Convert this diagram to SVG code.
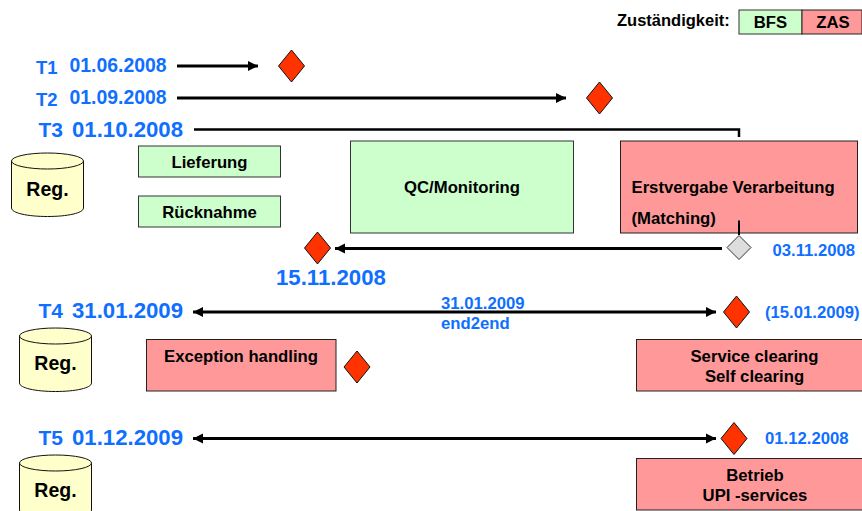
<svg xmlns="http://www.w3.org/2000/svg" width="862" height="511" viewBox="0 0 862 511">
<style>
text{font-family:"Liberation Sans",Arial,sans-serif;font-weight:bold}
.k{fill:#000;text-anchor:middle;font-size:16.700px}
.b{fill:#0f6fff}
.t12{font-size:18.500px}.t3{font-size:21px}.d12{font-size:19.400px}.b22{font-size:22.200px}.b16{font-size:16.700px}
.g{fill:#ccffcc;stroke:#333;stroke-width:1}
.r{fill:#ff9999;stroke:#222;stroke-width:1}
.y{fill:#ffffcc;stroke:#111;stroke-width:1}
.d{fill:#ff3300;stroke:#111;stroke-width:1}
.l{fill:none;stroke:#000;stroke-width:3}
</style>
<defs>
<marker id="a" markerUnits="userSpaceOnUse" markerWidth="11" markerHeight="12" refX="10" refY="6" orient="auto-start-reverse"><path d="M0,1L10,6L0,11z" fill="#000"/></marker>
<polygon id="dm" points="0,-16 13,0 0,16 -13,0"/>
<g id="cyl"><path class="y" d="M0,8V55C0,60 16,63.500 36,63.500S72,60 72,55V8z"/><ellipse class="y" cx="36" cy="8" rx="36" ry="8"/></g>
</defs>
<g id="connectors">
<path class="l" d="M177,66H258" marker-end="url(#a)"/>
<path class="l" d="M177,98H566" marker-end="url(#a)"/>
<path class="l" style="stroke-width:2.500px" d="M194,129.500H739V137"/>
<path class="l" d="M722,248.500H335" marker-end="url(#a)"/>
<path class="l" d="M193,312H716" marker-start="url(#a)" marker-end="url(#a)"/>
<path class="l" d="M193,438.500H716" marker-start="url(#a)" marker-end="url(#a)"/>
</g>
<g id="legend">
<text x="617" y="26" style="font-size:16.500px" fill="#000">Zuständigkeit:</text>
<rect class="g" x="739" y="10" width="63" height="24"/><rect class="r" x="802" y="10" width="60" height="24"/>
<text class="k" x="770.500" y="28">BFS</text><text class="k" x="833" y="28">ZAS</text>
</g>
<g id="labels">
<text class="b t12" x="36" y="74">T1</text><text class="b d12" x="69.500" y="72">01.06.2008</text>
<text class="b t12" x="36" y="106">T2</text><text class="b d12" x="69.500" y="104">01.09.2008</text>
<text class="b t3" x="38.500" y="137">T3</text><text class="b b22" x="72" y="137">01.10.2008</text>
<text class="b t3" x="38.500" y="318">T4</text><text class="b b22" x="72" y="318">31.01.2009</text>
<text class="b t3" x="38.500" y="445">T5</text><text class="b b22" x="72" y="445">01.12.2009</text>
<text class="b b22" x="276" y="285">15.11.2008</text>
<text class="b b16" x="772.500" y="256">03.11.2008</text>
<text class="b b16" x="441" y="309">31.01.2009</text>
<text class="b b16" x="441" y="329">end2end</text>
<text class="b b16" x="765" y="318">(15.01.2009)</text>
<text class="b b16" x="765" y="444">01.12.2008</text>
</g>
<g id="reg1"><use href="#cyl" x="11.500" y="153"/><text class="k" x="47.500" y="196" style="font-size:19.500px">Reg.</text></g>
<g id="reg2"><use href="#cyl" x="19.500" y="328"/><text class="k" x="55.500" y="370" style="font-size:19.500px">Reg.</text></g>
<g id="reg3"><use href="#cyl" x="19.500" y="455"/><text class="k" x="55.500" y="497" style="font-size:19.500px">Reg.</text></g>
<g id="lieferung"><rect class="g" x="138.500" y="146" width="142" height="31"/><text class="k" x="209.500" y="168">Lieferung</text></g>
<g id="ruecknahme"><rect class="g" x="138.500" y="196" width="142" height="31"/><text class="k" x="209.500" y="218">Rücknahme</text></g>
<g id="qc"><rect class="g" x="350.500" y="141" width="223" height="92"/><text class="k" x="462" y="193">QC/Monitoring</text></g>
<g id="erstvergabe"><rect class="r" x="620.500" y="141" width="237" height="92"/><text class="k" x="631.500" y="193" style="text-anchor:start">Erstvergabe Verarbeitung</text><text class="k" x="631.500" y="224" style="text-anchor:start">(Matching)</text></g>
<g id="exception"><rect class="r" x="146.500" y="339.500" width="189.500" height="51.500"/><text class="k" x="241" y="362">Exception handling</text></g>
<g id="service"><rect class="r" x="636.500" y="339.500" width="230" height="51.500"/><text class="k" x="754.500" y="362">Service clearing</text><text class="k" x="754.500" y="382">Self clearing</text></g>
<g id="betrieb"><rect class="r" x="636.500" y="458.500" width="230" height="51.500"/><text class="k" x="755" y="481">Betrieb</text><text class="k" x="755" y="501">UPI -services</text></g>
<path class="l" style="stroke-width:2px" d="M739,220.500V235"/>
<g id="m1"><use href="#dm" class="d" x="291.500" y="66"/></g>
<g id="m2"><use href="#dm" class="d" x="599.500" y="98"/></g>
<g id="m3"><use href="#dm" class="d" x="317.500" y="248"/></g>
<g id="m4"><use href="#dm" class="d" x="357" y="367"/></g>
<g id="m5"><use href="#dm" class="d" x="736.500" y="312"/></g>
<g id="m6"><use href="#dm" class="d" x="734" y="438.500"/></g>
<g id="m7"><polygon points="739,235.500 751,247.500 739,259.500 727,247.500" fill="#dddddd" stroke="#333"/></g>
</svg>
